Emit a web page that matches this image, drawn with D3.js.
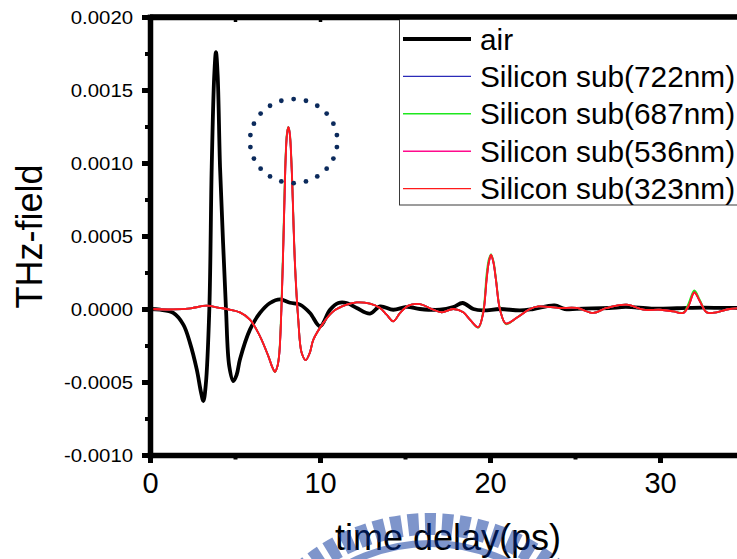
<!DOCTYPE html>
<html>
<head>
<meta charset="utf-8">
<script src="https://cdn.jsdelivr.net/npm/d3@7/dist/d3.min.js"></script>
<style>
  html, body { margin: 0; padding: 0; background: #fff; }
  svg { display: block; font-family: "Liberation Sans", Arial, sans-serif; }
</style>
</head>
<body>
<svg id="chart" width="737" height="559"></svg>
<script>
// ---- THz time-domain waveforms ----
// Reference pulse through air
const airTime  = [0, 0.6, 1.37, 1.96, 2.35, 2.75, 3.0, 3.14, 3.28, 3.49, 3.63, 3.78, 3.88, 3.98, 4.12, 4.3, 4.47,
                  4.66, 4.9, 5.1, 5.29, 5.88, 6.47, 7.06, 7.65, 8.24, 8.82, 9.41, 10.0, 10.59, 11.08, 11.57,
                  12.16, 12.94, 13.53, 14.31, 15.1, 15.88, 17.06, 17.84, 18.39, 19.02, 19.6, 20.59, 21.76,
                  22.55, 23.8, 24.4, 25.5, 27.0, 28.0, 29.5, 31.0, 32.5, 34.1, 35.0];
const airField = [0, -0.000005, -0.000027, -0.000107, -0.000232, -0.000414, -0.00057, -0.00063, -0.00052, 0.0,
                  0.00097, 0.0016, 0.00176, 0.0016, 0.00097, 0.00045, 0.0, -0.00039, -0.000494, -0.00045,
                  -0.000346, -0.000141, -0.000027, 0.000041, 0.000066, 0.000043, 0.00003, -0.000027, -0.000118,
                  -0.000005, 0.000041, 0.000041, 0.000007, -0.000032, 0.000018, -0.000005, 0.000014, 0.0,
                  -0.000005, 0.000014, 0.000041, 0.0, -0.00001, 0.0, -0.00001, 0.0, 0.000025, 0.0, 0.000003,
                  0.000007, 0.000014, 0.000003, 0.000005, 0.00001, 0.000007, 0.000007];

// Pulses transmitted through silicon substrates with films of different thickness
const siTime = [0, 1.37, 2.4, 3.33, 4.0, 4.51, 5.29, 5.88, 6.47, 6.96, 7.2, 7.35, 7.5, 7.61, 7.81, 7.96, 8.06,
                8.14, 8.22, 8.33, 8.53, 8.72, 8.92, 9.16, 9.4, 9.61, 10.2, 10.78, 11.57, 12.16, 12.94, 13.53,
                13.92, 14.31, 14.71, 15.2, 15.88, 16.57, 17.16, 17.84, 18.43, 18.82, 19.31, 19.6, 19.8, 19.93,
                20.06, 20.2, 20.35, 20.59, 20.94, 21.57, 22.35, 22.84, 24.1, 25.1, 26.08, 26.86, 28.04, 29.02,
                30.0, 30.78, 31.37, 31.67, 32.02, 32.35, 32.75, 33.33, 34.1, 35.0];
const si722 = [0, -0.000003, 0.000005, 0.000023, 0.00001, 0.0, -0.000023, -0.000073, -0.000187, -0.000323, -0.0004,
               -0.00043, -0.00039, -0.0003, 0.0003, 0.00097, 0.0012, 0.001245, 0.0012, 0.00097, 0.0003, -0.000073,
               -0.0003, -0.00035, -0.0003, -0.00021, -0.000095, -0.000016, 0.00003, 0.000045, 0.000036, 0.000007,
               -0.000039, -0.000084, -0.000027, 0.000023, 0.000033, 0.0, -0.000023, 0.0, -0.000023, -0.000073,
               -0.000125, -0.000027, 0.00021, 0.00032, 0.00037, 0.00032, 0.0002, -0.000005, -0.0001, -0.00006, 0.0,
               0.000018, 0.000007, 0.000007, -0.000027, 0.000007, 0.00003, -0.000005, -0.000005, -0.000016,
               -0.000027, 0.000022, 0.000118, 0.000052, -0.000023, -0.000023, 0.0, 0.000005];
const si687 = [0, -0.000003, 0.000005, 0.000023, 0.00001, 0.0, -0.000023, -0.000073, -0.000187, -0.000323, -0.0004,
               -0.000432, -0.00039, -0.00029, 0.00034, 0.001, 0.00121, 0.001248, 0.00121, 0.00099, 0.00031, -0.00007,
               -0.0003, -0.00035, -0.0003, -0.00021, -0.000095, -0.000016, 0.00003, 0.000045, 0.000036, 0.000007,
               -0.000039, -0.000084, -0.000027, 0.000023, 0.000033, 0.0, -0.000023, 0.0, -0.000023, -0.000073,
               -0.000128, -0.000015, 0.00024, 0.00034, 0.000375, 0.00033, 0.00021, 0.0, -0.000104, -0.00006, 0.0,
               0.000018, 0.000007, 0.000007, -0.000027, 0.000007, 0.00003, -0.000005, -0.000005, -0.000016,
               -0.000025, 0.000035, 0.000128, 0.00006, -0.000023, -0.000023, 0.0, 0.000006];
const si536 = [0, -0.000003, 0.000005, 0.000023, 0.00001, 0.0, -0.000023, -0.000073, -0.000187, -0.000323, -0.0004,
               -0.00043, -0.00039, -0.0003, 0.00029, 0.00097, 0.0012, 0.001245, 0.00121, 0.00098, 0.00031, -0.000065,
               -0.0003, -0.00035, -0.0003, -0.00021, -0.000095, -0.000016, 0.00003, 0.000045, 0.000036, 0.000007,
               -0.000039, -0.000084, -0.000027, 0.000023, 0.000033, 0.0, -0.000023, 0.0, -0.000023, -0.000073,
               -0.000125, -0.000027, 0.0002, 0.00032, 0.00037, 0.00032, 0.0002, -0.000005, -0.0001, -0.00006, 0.0,
               0.000018, 0.000007, 0.000007, -0.000027, 0.000007, 0.00003, -0.000005, -0.000005, -0.000016,
               -0.000027, 0.000018, 0.000113, 0.000052, -0.000023, -0.000023, 0.0, 0.000005];
const si323 = [0, -0.000003, 0.000005, 0.000023, 0.00001, 0.0, -0.000023, -0.000073, -0.000187, -0.000323, -0.0004,
               -0.00043, -0.00039, -0.0003, 0.00029, 0.00097, 0.0012, 0.001245, 0.0012, 0.00097, 0.00029, -0.000073,
               -0.0003, -0.00035, -0.0003, -0.00021, -0.000095, -0.000016, 0.00003, 0.000045, 0.000036, 0.000007,
               -0.000039, -0.000084, -0.000027, 0.000023, 0.000033, 0.0, -0.000023, 0.0, -0.000023, -0.000073,
               -0.000125, -0.000027, 0.0002, 0.00032, 0.00037, 0.00032, 0.0002, -0.000005, -0.0001, -0.00006, 0.0,
               0.000018, 0.000007, 0.000007, -0.000027, 0.000007, 0.00003, -0.000005, -0.000005, -0.000016,
               -0.000027, 0.000018, 0.000113, 0.000052, -0.000023, -0.000023, 0.0, 0.000005];

const seriesNames  = ["air", "Silicon sub(722nm)", "Silicon sub(687nm)", "Silicon sub(536nm)", "Silicon sub(323nm)"];
const seriesColors = ["#000000", "#2b2bb8", "#1ee81e", "#ff0a8c", "#ff1a1a"];

const xMajorTicks = [0, 10, 20, 30];
const xMinorTicks = [5, 15, 25];
const yMajorTicks = [-0.0010, -0.0005, 0.0000, 0.0005, 0.0010, 0.0015, 0.0020];
const yMinorTicks = [-0.00075, -0.00025, 0.00025, 0.00075, 0.00125, 0.00175];

// Dotted ring highlighting the transmitted main peak (centre time, centre field, radii)
const ringCenter = [8.45, 0.00115];
const ringRadius = [2.57, 0.000288];
const ringDots = 22;

const xTitle = "time delay(ps)";
const yTitle = "THz-field";

// ---- layout ----
const W = 737, H = 559;
const svg = d3.select("#chart");
const plotLeft = 150, plotRight = 830, plotTop = 17, plotBottom = 455;

const x = d3.scaleLinear().domain([0, 40]).range([plotLeft, plotRight]);
const y = d3.scaleLinear().domain([-0.0010, 0.0020]).range([plotBottom, plotTop]);

svg.append("defs").append("clipPath").attr("id", "plotClip")
  .append("rect").attr("x", plotLeft).attr("y", plotTop)
  .attr("width", plotRight - plotLeft).attr("height", plotBottom - plotTop);

// ---- curves ----
const line = d3.line()
  .x(d => x(d[0])).y(d => y(d[1]))
  .curve(d3.curveCatmullRom.alpha(0.5));

const plot = svg.append("g").attr("clip-path", "url(#plotClip)");

plot.append("path")
  .datum(airTime.map((t, i) => [t, airField[i]]))
  .attr("d", line).attr("fill", "none")
  .attr("stroke", seriesColors[0]).attr("stroke-width", 3.8).attr("stroke-linejoin", "round");

[si722, si687, si536, si323].forEach((vals, k) => {
  plot.append("path")
    .datum(siTime.map((t, i) => [t, vals[i]]))
    .attr("d", line).attr("fill", "none")
    .attr("stroke", seriesColors[k + 1]).attr("stroke-width", 1.8).attr("stroke-linejoin", "round");
});

// ---- axes ----
function styleAxis(g, tickWidth) {
  g.select(".domain").attr("stroke", "#000").attr("stroke-width", 5.5).attr("stroke-linecap", "square");
  g.selectAll(".tick line").attr("stroke", "#000").attr("stroke-width", tickWidth);
}

const gx = svg.append("g").attr("transform", `translate(0,${plotBottom})`)
  .call(d3.axisBottom(x).tickValues(xMajorTicks).tickSize(8).tickSizeOuter(0).tickPadding(9)
    .tickFormat(d3.format("d")));
styleAxis(gx, 5);
gx.selectAll(".tick text").attr("font-size", 29).attr("fill", "#000")
  .attr("font-family", "'Liberation Sans', Arial, sans-serif");

const gxm = svg.append("g").attr("transform", `translate(0,${plotBottom})`)
  .call(d3.axisBottom(x).tickValues(xMinorTicks).tickSize(4.5).tickSizeOuter(0).tickFormat(""));
gxm.select(".domain").remove();
gxm.selectAll(".tick line").attr("stroke", "#000").attr("stroke-width", 4);

const gy = svg.append("g").attr("transform", `translate(${plotLeft},0)`)
  .call(d3.axisLeft(y).tickValues(yMajorTicks).tickSize(8).tickSizeOuter(0).tickPadding(9)
    .tickFormat(d => d.toFixed(4)));
styleAxis(gy, 5);
gy.selectAll(".tick text").attr("font-size", 19).attr("fill", "#000")
  .attr("font-family", "'Liberation Sans', Arial, sans-serif")
  .each(function () {
    const w = this.getComputedTextLength();
    d3.select(this).attr("textLength", w * 1.07).attr("lengthAdjust", "spacingAndGlyphs");
  });

const gym = svg.append("g").attr("transform", `translate(${plotLeft},0)`)
  .call(d3.axisLeft(y).tickValues(yMinorTicks).tickSize(5).tickSizeOuter(0).tickFormat(""));
gym.select(".domain").remove();
gym.selectAll(".tick line").attr("stroke", "#000").attr("stroke-width", 4);

// top frame with small inward ticks
const gt = svg.append("g").attr("transform", `translate(0,${plotTop})`)
  .call(d3.axisTop(x).tickValues(xMajorTicks.concat(xMinorTicks)).tickSize(-5).tickSizeOuter(0).tickFormat(""));
styleAxis(gt, 3.5);

// ---- axis titles ----
svg.append("text")
  .attr("transform", `translate(41.5,${(plotTop + plotBottom) / 2 + 0.5}) rotate(-90)`)
  .attr("text-anchor", "middle").attr("font-size", 36).attr("fill", "#000")
  .text(yTitle);

svg.append("text")
  .attr("x", 448).attr("y", 550)
  .attr("text-anchor", "middle").attr("font-size", 36).attr("fill", "#000")
  .text(xTitle);

// ---- dotted highlight ring ----
svg.append("g").selectAll("circle")
  .data(d3.range(ringDots))
  .join("circle")
  .attr("cx", k => x(ringCenter[0] + ringRadius[0] * Math.sin(2 * Math.PI * k / ringDots)))
  .attr("cy", k => y(ringCenter[1] + ringRadius[1] * Math.cos(2 * Math.PI * k / ringDots)))
  .attr("r", 2.4)
  .attr("fill", "#0b2a5c");

// ---- legend ----
const lg = svg.append("g");
lg.append("rect")
  .attr("x", 399.5).attr("y", 18.5).attr("width", 400).attr("height", 186.5)
  .attr("fill", "#fff").attr("stroke", "#3a3a3a").attr("stroke-width", 1);
// keep the top frame edge above the legend box border
lg.append("line").attr("x1", plotLeft).attr("x2", W).attr("y1", plotTop).attr("y2", plotTop)
  .attr("stroke", "#000").attr("stroke-width", 5.5);

const rowStep = 37.4;
seriesNames.forEach((name, i) => {
  const cy = 39 + i * rowStep;
  lg.append("line")
    .attr("x1", 403).attr("x2", 471).attr("y1", cy).attr("y2", cy)
    .attr("stroke", seriesColors[i]).attr("stroke-width", i === 0 ? 3.8 : 1.4);
  lg.append("text")
    .attr("x", 480).attr("y", cy + 10.5)
    .attr("font-size", 29.8).attr("fill", "#000")
    .text(name);
});

// ---- institutional emblem watermark ----
const wm = svg.append("g").attr("opacity", 0.5).attr("fill", "none").attr("stroke", "#002d99");
const wmR = 195, wmPeriod = 2 * Math.PI * wmR / 72;
wm.append("circle")
  .attr("cx", 430).attr("cy", 719).attr("r", wmR)
  .attr("stroke-width", 22)
  .attr("stroke-dasharray", `${wmPeriod * 0.64} ${wmPeriod * 0.36}`)
  .attr("stroke-dashoffset", wmPeriod * 0.32);
wm.append("circle")
  .attr("cx", 430).attr("cy", 719).attr("r", 175.5)
  .attr("stroke-width", 7);
</script>
</body>
</html>
